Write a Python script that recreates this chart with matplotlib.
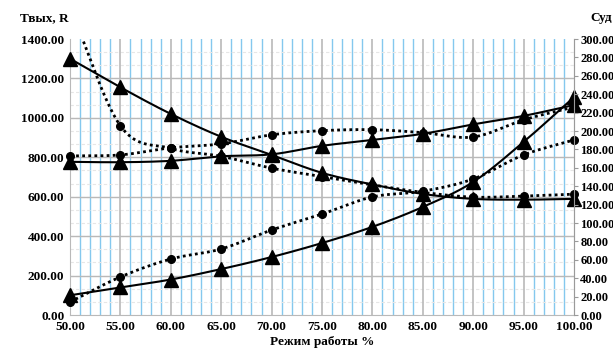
import numpy as np
import matplotlib.pyplot as plt
from matplotlib.ticker import MultipleLocator, FormatStrFormatter

# режим работы, %
rezhim = [50, 55, 60, 65, 70, 75, 80, 85, 90, 95, 100]
# solid lines with triangles
tvyh_a = [1300, 1155, 1020, 904, 812, 721, 662, 614, 589, 585, 589]
tvyh_b = [777, 775, 782, 805, 815, 858, 888, 919, 967, 1010, 1065]
tvyh_c = [100, 140, 180, 233, 294, 365, 447, 548, 675, 878, 1105]
# dotted lines with circles
r_d = [1560, 960, 845, 805, 745, 702, 660, 622, 598, 603, 613]
r_e = [807, 812, 848, 868, 914, 935, 940, 925, 903, 990, 1055]
r_f = [66, 193, 284, 335, 431, 512, 599, 628, 690, 812, 888]

FONT = "Liberation Serif"


def smooth(xs, ys, n=30):
    # Catmull-Rom through the points, close to Excel's smoothed line
    xs, ys = np.asarray(xs, float), np.asarray(ys, float)
    px = np.concatenate([[2 * xs[0] - xs[1]], xs, [2 * xs[-1] - xs[-2]]])
    py = np.concatenate([[2 * ys[0] - ys[1]], ys, [2 * ys[-1] - ys[-2]]])
    outx, outy = [], []
    t = np.linspace(0, 1, n, endpoint=False)
    for i in range(1, len(px) - 2):
        for p, out in ((px, outx), (py, outy)):
            p0, p1, p2, p3 = p[i - 1], p[i], p[i + 1], p[i + 2]
            out.extend(0.5 * (2 * p1 + (-p0 + p2) * t + (2 * p0 - 5 * p1 + 4 * p2 - p3) * t ** 2
                              + (-p0 + 3 * p1 - 3 * p2 + p3) * t ** 3))
    outx.append(xs[-1]); outy.append(ys[-1])
    return np.array(outx), np.array(outy)


fig = plt.figure(figsize=(6.13, 3.51), dpi=100)
ax = fig.add_axes([70 / 613, 1 - 315 / 351, 504 / 613, 276 / 351])

ax.set_xlim(50, 100)
ax.set_ylim(0, 1400)

# grid
for v in np.arange(51, 100, 1):
    if v % 5:
        ax.axvline(v, color="#84c8ee", lw=1.0, zorder=0)
for v in np.arange(0, 1400, 200 / 3):
    ax.axhline(v, color="#e6e6e6", lw=0.8, ls=(0, (3, 2)), zorder=0)
for v in range(55, 100, 5):
    ax.axvline(v, color="#b9b9b9", lw=1.2, zorder=0.5)
for v in range(200, 1400, 200):
    ax.axhline(v, color="#b9b9b9", lw=1.0, zorder=0.5)

for ys in (tvyh_a, tvyh_b, tvyh_c):
    sx, sy = smooth(rezhim, ys)
    ax.plot(sx, sy, color="black", lw=1.5, zorder=3)
    ax.plot(rezhim, ys, ls="none", marker="^", ms=10, color="black", zorder=4, clip_on=False)

for ys in (r_d, r_e, r_f):
    sx, sy = smooth(rezhim, ys)
    ax.plot(sx, sy, color="black", lw=2.0, ls=(0, (1, 1.2)), zorder=3)
    vis = [(a, b) for a, b in zip(rezhim, ys) if b <= 1400]
    ax.plot([a for a, _ in vis], [b for _, b in vis], ls="none", marker="o", ms=5.5,
            color="black", zorder=4, clip_on=False)

for s in ax.spines.values():
    s.set_color("#b9b9b9")
ax.spines["top"].set_visible(False)

ax.xaxis.set_major_locator(MultipleLocator(5))
ax.xaxis.set_major_formatter(FormatStrFormatter("%.2f"))
ax.yaxis.set_major_locator(MultipleLocator(200))
ax.yaxis.set_major_formatter(FormatStrFormatter("%.2f"))
ax.tick_params(length=0, pad=4)
for lab in ax.get_xticklabels() + ax.get_yticklabels():
    lab.set_fontfamily(FONT); lab.set_fontweight("bold"); lab.set_fontsize(9.5)

ax2 = ax.twinx()
ax2.set_ylim(0, 300)
ax2.yaxis.set_major_locator(MultipleLocator(20))
ax2.yaxis.set_major_formatter(FormatStrFormatter("%.2f"))
ax2.tick_params(length=3, color="#9a9a9a", pad=1.5)
for s in ax2.spines.values():
    s.set_visible(False)
ax2.spines["right"].set_visible(True)
ax2.spines["right"].set_color("#9a9a9a")
for lab in ax2.get_yticklabels():
    lab.set_fontfamily(FONT); lab.set_fontweight("bold"); lab.set_fontsize(9)

fig.text(20 / 613, 1 - 18 / 351, "Твых, R", fontfamily=FONT, fontweight="bold",
         fontsize=9.5, va="center", ha="left")
fig.text(590 / 613, 1 - 18 / 351, "Суд", fontfamily=FONT, fontweight="bold",
         fontsize=9.5, va="center", ha="left")
fig.text(322 / 613, 1 - 342 / 351, "Режим работы %", fontfamily=FONT, fontweight="bold",
         fontsize=9.5, va="center", ha="center")

fig.savefig("out.png", dpi=100, facecolor="white")
